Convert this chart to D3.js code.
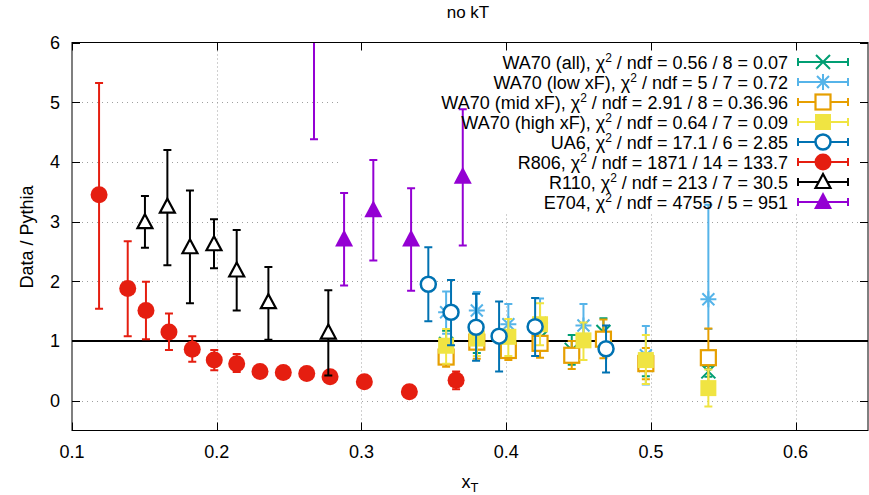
<!DOCTYPE html>
<html>
<head>
<meta charset="utf-8">
<script src="https://cdn.jsdelivr.net/npm/d3@7"></script>
<style>
  body { margin: 0; background: #fff; }
  svg { display: block; font-family: "Liberation Sans", Arial, sans-serif; }
</style>
</head>
<body>
<svg id="chart" width="869" height="495"></svg>
<script>
const xTicks = [0.1, 0.2, 0.3, 0.4, 0.5, 0.6];
const yTicks = [0, 1, 2, 3, 4, 5, 6];

// rows: [xT, ratio, low, high]
const wa70All = [
  [0.3585, 0.95, 0.75, 1.17], [0.3797, 1.00, 0.80, 1.20], [0.4015, 0.95, 0.75, 1.15],
  [0.4234, 1.05, 0.85, 1.25], [0.4453, 0.85, 0.60, 1.10], [0.4672, 1.15, 0.92, 1.38],
  [0.4965, 0.60, 0.41, 0.80], [0.5397, 0.49, 0.40, 0.58]
];
const wa70Low = [
  [0.3585, 1.48, 1.12, 1.83], [0.3797, 1.51, 1.20, 1.82], [0.4015, 1.28, 0.95, 1.62],
  [0.4234, 1.30, 0.90, 1.71], [0.4534, 1.26, 0.90, 1.62], [0.4965, 0.76, 0.27, 1.25],
  [0.5397, 1.70, 1.20, 3.28]
];
const wa70Mid = [
  [0.3585, 0.73, 0.57, 0.90], [0.3797, 0.98, 0.70, 1.25], [0.4015, 0.84, 0.68, 1.02],
  [0.4234, 0.96, 0.72, 1.20], [0.4453, 0.76, 0.53, 1.00], [0.4672, 1.03, 0.71, 1.36],
  [0.4965, 0.62, 0.36, 0.88], [0.5397, 0.72, 0.23, 1.21]
];
const wa70High = [
  [0.3585, 0.92, 0.62, 1.20], [0.3797, 1.04, 0.75, 1.32], [0.4015, 1.07, 0.75, 1.37],
  [0.4234, 1.28, 0.93, 1.63], [0.4534, 1.01, 0.68, 1.31], [0.4965, 0.68, 0.28, 1.10],
  [0.5397, 0.21, -0.10, 0.52]
];
const ua6 = [
  [0.3462, 1.95, 1.33, 2.57], [0.3619, 1.48, 0.93, 2.02], [0.3792, 1.23, 0.67, 1.79],
  [0.3951, 1.08, 0.49, 1.66], [0.4200, 1.24, 0.75, 1.72], [0.4690, 0.87, 0.47, 1.26]
];
const r806 = [
  [0.1187, 3.45, 1.54, 5.32], [0.1385, 1.88, 1.08, 2.67], [0.1511, 1.51, 1.03, 1.99],
  [0.1670, 1.15, 0.85, 1.46], [0.1831, 0.86, 0.65, 1.08], [0.1983, 0.68, 0.51, 0.85],
  [0.2138, 0.62, 0.48, 0.78], [0.2299, 0.49, 0.44, 0.54], [0.2460, 0.47, 0.43, 0.51],
  [0.2622, 0.455, 0.42, 0.49], [0.2783, 0.40, 0.36, 0.44], [0.3020, 0.315, 0.28, 0.35],
  [0.3331, 0.15, 0.11, 0.19], [0.3654, 0.34, 0.19, 0.49]
];
const r110 = [
  [0.1504, 2.99, 2.56, 3.43], [0.1659, 3.25, 2.27, 4.20], [0.1815, 2.57, 1.63, 3.52],
  [0.1981, 2.62, 2.22, 3.04], [0.2138, 2.18, 1.51, 2.86], [0.2357, 1.65, 1.02, 2.24],
  [0.2771, 1.14, 0.42, 1.85]
];
const e704 = [
  [0.2672, 8.00, 4.38, 11.0], [0.2880, 2.70, 1.93, 3.48], [0.3082, 3.19, 2.35, 4.03],
  [0.3343, 2.70, 1.84, 3.56], [0.3700, 3.75, 2.60, 4.88]
];

const seriesNames = ["WA70 (all)", "WA70 (low xF)", "WA70 (mid xF)", "WA70 (high xF)", "UA6", "R806", "R110", "E704"];
const chi2Text = ["0.56 / 8 = 0.07", "5 / 7 = 0.72", "2.91 / 8 = 0.36.96", "0.64 / 7 = 0.09",
  "17.1 / 6 = 2.85", "1871 / 14 = 133.7", "213 / 7 = 30.5", "4755 / 5 = 951"];
const seriesData = [wa70All, wa70Low, wa70Mid, wa70High, ua6, r806, r110, e704];
const seriesColors = ["#009e73", "#56b4e9", "#e69f00", "#f0e442", "#0072b2", "#e51e10", "#000000", "#9400d3"];
const seriesMarks = ["cross", "star", "openSquare", "square", "openCircle", "circle", "openTriangle", "triangle"];

const m = { left: 72, right: 868, top: 42.5, bottom: 430.5 };

const svg = d3.select("#chart");
const x = d3.scaleLinear().domain([0.1, 0.65]).range([m.left, m.right]);
const y = d3.scaleLinear().domain([-0.5, 6]).range([m.bottom, m.top]);

svg.append("defs").append("clipPath").attr("id", "plot-clip")
  .append("rect")
  .attr("x", m.left).attr("y", m.top)
  .attr("width", m.right - m.left).attr("height", m.bottom - m.top);

// grid
const grid = svg.append("g").attr("stroke", "#a0a0a0").attr("stroke-width", 1);
grid.selectAll("line.gy").data(yTicks.slice(0, -1)).join("line")
  .attr("x1", m.left).attr("x2", m.right)
  .attr("y1", (d) => Math.round(y(d)) + 0.5).attr("y2", (d) => Math.round(y(d)) + 0.5)
  .attr("stroke-dasharray", "1,4");
grid.selectAll("line.gx").data(xTicks.slice(1)).join("line")
  .attr("y1", m.top).attr("y2", m.bottom)
  .attr("x1", (d) => Math.round(x(d)) + 0.5).attr("x2", (d) => Math.round(x(d)) + 0.5)
  .attr("stroke-dasharray", "1,3");

// opaque key box
svg.append("rect").attr("x", 341).attr("y", m.top + 1).attr("width", 526).attr("height", 170).attr("fill", "#fff");

// reference line at 1
svg.append("line")
  .attr("x1", m.left).attr("x2", m.right)
  .attr("y1", y(1)).attr("y2", y(1))
  .attr("stroke", "#000").attr("stroke-width", 2);

function drawMark(g, type, color, cx, cy) {
  const s = 8;
  switch (type) {
    case "cross":
      g.append("path").attr("d", `M${cx - 7},${cy - 7}L${cx + 7},${cy + 7}M${cx - 7},${cy + 7}L${cx + 7},${cy - 7}`)
        .attr("stroke", color).attr("stroke-width", 2).attr("fill", "none");
      break;
    case "star":
      g.append("path").attr("d", `M${cx - 8},${cy}L${cx + 8},${cy}M${cx},${cy - 8}L${cx},${cy + 8}` +
          `M${cx - 6},${cy - 6}L${cx + 6},${cy + 6}M${cx - 6},${cy + 6}L${cx + 6},${cy - 6}`)
        .attr("stroke", color).attr("stroke-width", 2).attr("fill", "none");
      break;
    case "openSquare":
      g.append("rect").attr("x", cx - 7.5).attr("y", cy - 7.5).attr("width", 15).attr("height", 15)
        .attr("fill", "#fff").attr("stroke", color).attr("stroke-width", 2.2);
      break;
    case "square":
      g.append("rect").attr("x", cx - s).attr("y", cy - s).attr("width", 2 * s).attr("height", 2 * s)
        .attr("fill", color);
      break;
    case "openCircle":
      g.append("circle").attr("cx", cx).attr("cy", cy).attr("r", 7.5)
        .attr("fill", "#fff").attr("stroke", color).attr("stroke-width", 2.5);
      break;
    case "circle":
      g.append("circle").attr("cx", cx).attr("cy", cy).attr("r", 8.5).attr("fill", color);
      break;
    case "openTriangle":
      g.append("path").attr("d", `M${cx},${cy - 8}L${cx + 7.5},${cy + 6}L${cx - 7.5},${cy + 6}Z`)
        .attr("fill", "#fff").attr("stroke", color).attr("stroke-width", 2.2);
      break;
    case "triangle":
      g.append("path").attr("d", `M${cx},${cy - 10}L${cx + 9},${cy + 7}L${cx - 9},${cy + 7}Z`)
        .attr("fill", color);
      break;
  }
}

// data
const plot = svg.append("g").attr("clip-path", "url(#plot-clip)");
seriesData.forEach((rows, i) => {
  const color = seriesColors[i];
  const g = plot.append("g");
  g.selectAll("path.bar").data(rows).join("path")
    .attr("d", (d) => {
      const px = x(d[0]), lo = y(d[2]), hi = y(d[3]);
      return `M${px},${lo}L${px},${hi}M${px - 4},${lo}L${px + 4},${lo}M${px - 4},${hi}L${px + 4},${hi}`;
    })
    .attr("stroke", color).attr("stroke-width", 2).attr("fill", "none");
  rows.forEach((d) => drawMark(g, seriesMarks[i], color, x(d[0]), y(d[1])));
});

// border and ticks
svg.append("rect")
  .attr("x", m.left).attr("y", m.top)
  .attr("width", m.right - m.left).attr("height", m.bottom - m.top)
  .attr("fill", "none").attr("stroke", "#000").attr("stroke-width", 1);

const ticks = svg.append("g").attr("stroke", "#000").attr("stroke-width", 1);
yTicks.forEach((t) => {
  const py = Math.round(y(t)) + 0.5;
  ticks.append("line").attr("x1", m.left).attr("x2", m.left + 8).attr("y1", py).attr("y2", py);
  ticks.append("line").attr("x1", m.right - 8).attr("x2", m.right).attr("y1", py).attr("y2", py);
});
xTicks.forEach((t) => {
  const px = Math.round(x(t)) + 0.5;
  ticks.append("line").attr("x1", px).attr("x2", px).attr("y1", m.bottom).attr("y2", m.bottom - 8);
  ticks.append("line").attr("x1", px).attr("x2", px).attr("y1", m.top).attr("y2", m.top + 8);
});

const fs = 18;
svg.append("g").selectAll("text").data(yTicks).join("text")
  .attr("x", 60).attr("y", (d) => y(d) + 6.5)
  .attr("text-anchor", "end").attr("font-size", fs).text((d) => d);

svg.append("g").selectAll("text").data(xTicks).join("text")
  .attr("x", (d) => x(d)).attr("y", 458)
  .attr("text-anchor", "middle").attr("font-size", fs).text((d) => d);

svg.append("text").attr("x", 468).attr("y", 18).attr("text-anchor", "middle")
  .attr("font-size", 17).text("no kT");

svg.append("text").attr("transform", "translate(33,237) rotate(-90)")
  .attr("text-anchor", "middle").attr("font-size", fs).text("Data / Pythia");

const xl = svg.append("text").attr("x", 470).attr("y", 488).attr("text-anchor", "middle").attr("font-size", fs);
xl.append("tspan").text("x");
xl.append("tspan").attr("font-size", 13).attr("dy", 4).text("T");

// legend
const key = svg.append("g");
seriesNames.forEach((name, i) => {
  const ky = 62 + 20 * i;
  const color = seriesColors[i];
  const t = key.append("text").attr("x", 788).attr("y", ky + 6.5)
    .attr("text-anchor", "end").attr("font-size", fs);
  t.append("tspan").text(`${name}, χ`);
  t.append("tspan").attr("font-size", 12).attr("dy", -7).text("2");
  t.append("tspan").attr("dy", 7).text(` / ndf = ${chi2Text[i]}`);
  key.append("path")
    .attr("d", `M798,${ky}L848,${ky}M798,${ky - 4}L798,${ky + 4}M848,${ky - 4}L848,${ky + 4}`)
    .attr("stroke", color).attr("stroke-width", 2).attr("fill", "none");
  drawMark(key, seriesMarks[i], color, 823, ky);
});
</script>
</body>
</html>
